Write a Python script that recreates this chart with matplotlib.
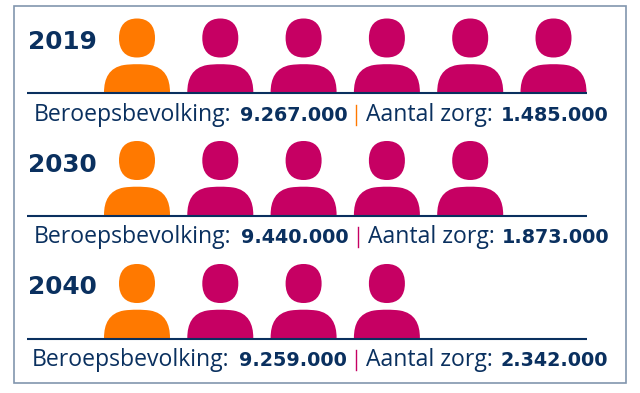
import matplotlib
matplotlib.use("Agg")
import matplotlib.pyplot as plt
from matplotlib.path import Path
from matplotlib.patches import PathPatch, Rectangle

years = ["2019", "2030", "2040"]
workforce = ["9.267.000", "9.440.000", "9.259.000"]
care = ["1.485.000", "1.873.000", "2.342.000"]
people_total = [6, 5, 4]
sep_colors = ["#FF7900", "#C60063", "#C60063"]

NAVY = "#0A305F"
ORANGE = "#FF7900"
MAGENTA = "#C60063"
FRAME = "#8296AE"

baseline_y = [92.5, 215, 338]
text_y = [121, 243, 366]
year_y = [49, 172, 294]
label_x = [(34, 240, 356, 366, 501), (34, 241, 358, 368, 502), (32, 239, 356, 366, 501)]
FIRST_X, STEP = 137, 83.3

fig = plt.figure(figsize=(6.4, 3.93), dpi=100)
ax = fig.add_axes([0, 0, 1, 1])
ax.set_xlim(0, 640)
ax.set_ylim(393, 0)
ax.axis("off")

ax.add_patch(Rectangle((13.5, 5.5), 612, 377.5, fc="white", ec=FRAME, lw=1.2))

M, L, C, Z = Path.MOVETO, Path.LINETO, Path.CURVE4, Path.CLOSEPOLY


def person(cx, y0, color):
    body = [(-33, 0), (-33, -14), (-28, -25), (-13, -27.5), (-5, -28.6), (5, -28.6), (13, -27.5),
            (28, -25), (33, -14), (33, 0), (-33, 0)]
    codes = [M, C, C, C, C, C, C, C, C, C, Z]
    ax.add_patch(PathPatch(Path([(cx + a, y0 + b) for a, b in body], codes), fc=color, ec="none"))
    w, h = 18, 19.5
    k = 0.64
    hy = y0 - 54.5
    head = [(0, -h), (k * w, -h), (w, -k * h), (w, 0), (w, k * h), (k * w, h), (0, h),
            (-k * w, h), (-w, k * h), (-w, 0), (-w, -k * h), (-k * w, -h), (0, -h), (0, -h)]
    hc = [M] + [C] * 12 + [Z]
    ax.add_patch(PathPatch(Path([(cx + a, hy + b) for a, b in head], hc), fc=color, ec="none"))


REG = dict(family="Open Sans", color=NAVY, va="baseline", fontsize=16.6)
BOLD = dict(family="DejaVu Sans", weight="bold", color=NAVY, va="baseline", fontsize=13.8)

for i, year in enumerate(years):
    y0 = baseline_y[i]
    for j in range(people_total[i]):
        person(FIRST_X + j * STEP, y0, ORANGE if j == 0 else MAGENTA)
    ax.plot([27, 587], [y0 + 0.7, y0 + 0.7], color=NAVY, lw=1.5, solid_capstyle="butt")
    ax.text(28, year_y[i], year, family="DejaVu Sans", weight="bold", color=NAVY,
            fontsize=17.8, va="baseline")
    x1, x2, xs, x3, x4 = label_x[i]
    ax.text(x1, text_y[i], "Beroepsbevolking:", **REG)
    ax.text(x2, text_y[i], workforce[i], **BOLD)
    ax.plot([xs, xs], [text_y[i] - 16, text_y[i] + 4], color=sep_colors[i], lw=1.0)
    ax.text(x3, text_y[i], "Aantal zorg:", **REG)
    ax.text(x4, text_y[i], care[i], **BOLD)

fig.savefig("out.png", dpi=100, facecolor="white")
